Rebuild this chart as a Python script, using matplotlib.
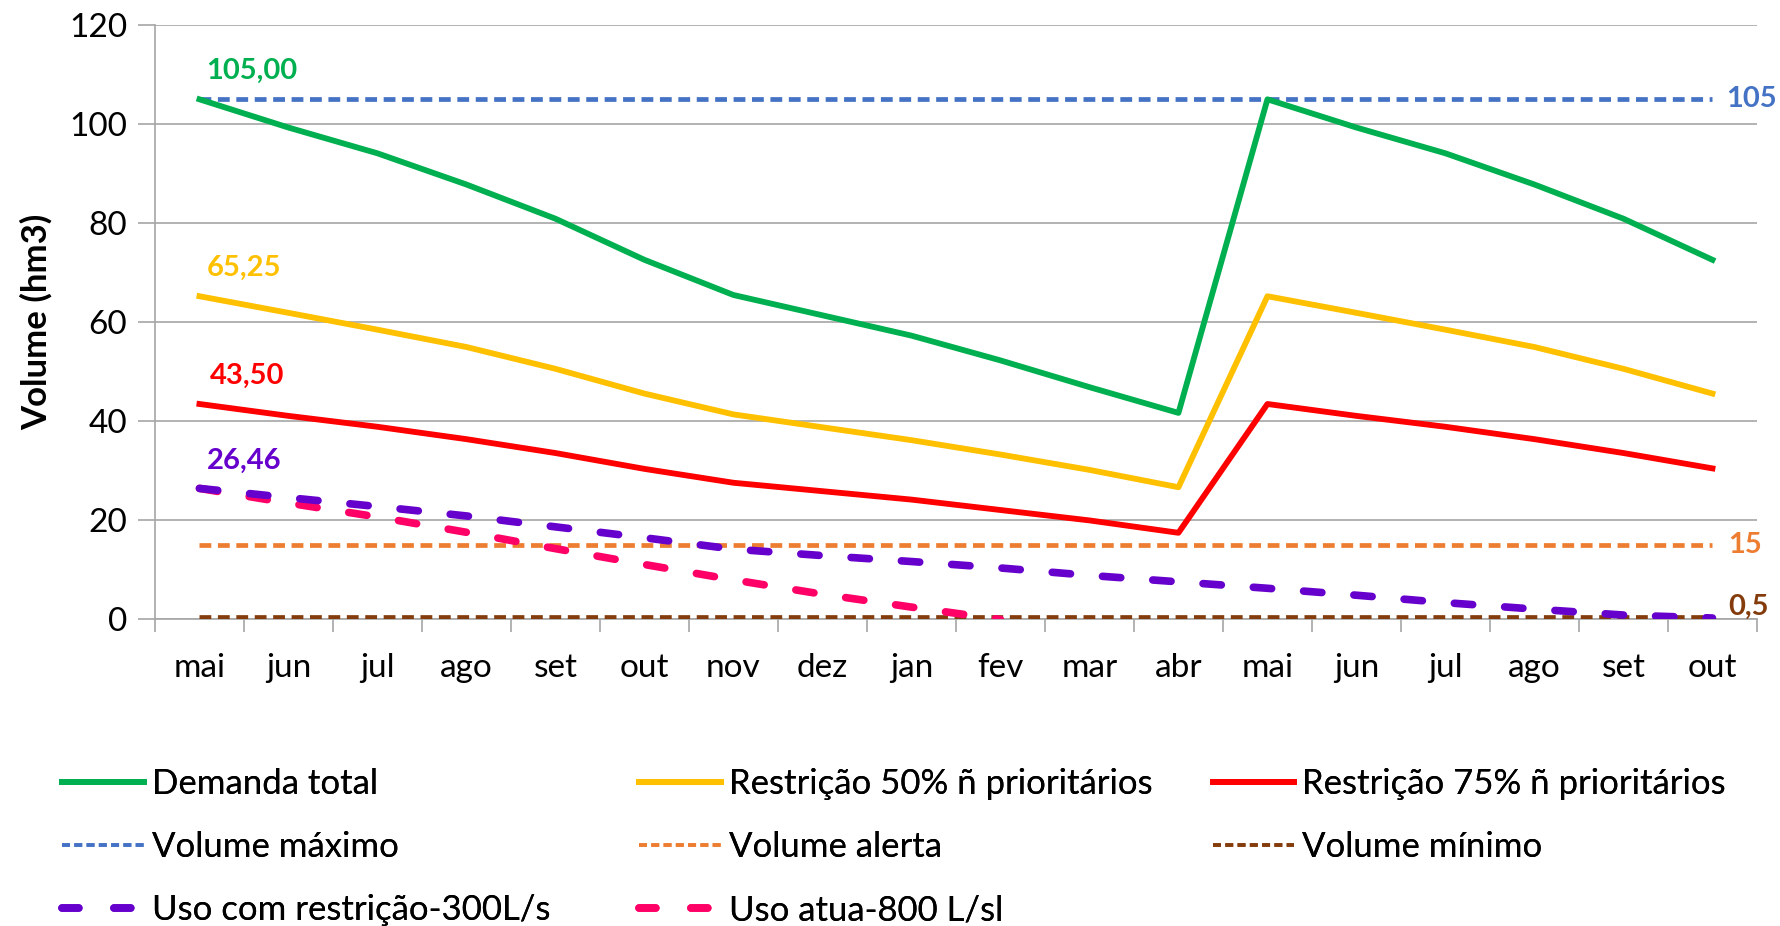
import numpy as np
import matplotlib
matplotlib.use("Agg")
import matplotlib.pyplot as plt
from matplotlib.lines import Line2D

plt.rcParams['font.family'] = ['Lato', 'DejaVu Sans']

months = ["mai", "jun", "jul", "ago", "set", "out", "nov", "dez", "jan",
          "fev", "mar", "abr", "mai", "jun", "jul", "ago", "set", "out"]

demanda_total = [105.0, 99.3, 94.1, 87.8, 80.9, 72.6, 65.5, 61.4, 57.3,
                 52.3, 46.9, 41.7, 105.0, 99.3, 94.1, 87.8, 80.9, 72.6]
restricao_50 = [65.25, 61.9, 58.5, 55.0, 50.6, 45.6, 41.4, 38.8, 36.2,
                33.3, 30.2, 26.7, 65.25, 61.9, 58.5, 55.0, 50.6, 45.6]
restricao_75 = [43.5, 41.1, 38.9, 36.4, 33.6, 30.4, 27.6, 25.9, 24.2,
                22.1, 20.0, 17.5, 43.5, 41.1, 38.9, 36.4, 33.6, 30.5]
volume_maximo = [105] * 18
volume_alerta = [15] * 18
volume_minimo = [0.5] * 18
uso_restricao = [26.46, 24.6, 22.8, 20.9, 18.7, 16.5, 14.2, 12.9, 11.7,
                 10.4, 8.9, 7.6, 6.3, 4.9, 3.4, 2.1, 0.9, 0.3]
uso_atual = [26.46, 23.5, 20.7, 17.6, 14.3, 11.1, 8.0, 5.1, 2.5, 0.0]

GREEN = "#00B050"
YELLOW = "#FFC000"
RED = "#FF0000"
BLUE = "#4472C4"
ORANGE = "#ED7D31"
BROWN = "#843C0C"
PURPLE = "#6600CC"
PINK = "#FF0066"
GRID = "#A6A6A6"

fig = plt.figure(figsize=(17.81, 9.26), dpi=100)
ax = fig.add_axes([0.087, 0.331, 0.8995, 0.642])

x = np.arange(len(months))

# reference lines
vol_style = dict(lw=3.4, linestyle=(0, (2.5, 1.4)))
ax.plot(x, volume_maximo, color=BLUE, **vol_style, zorder=3)
ax.plot(x, volume_alerta, color=ORANGE, **vol_style, zorder=3)
ax.plot(x, volume_minimo, color=BROWN, **vol_style, zorder=3)

# demand scenarios
ax.plot(x, demanda_total, color=GREEN, lw=4.2, zorder=4)
ax.plot(x, restricao_50, color=YELLOW, lw=4.2, zorder=4)
ax.plot(x, restricao_75, color=RED, lw=4.2, zorder=4)

# usage scenarios
uso_style = dict(lw=5.5, linestyle=(0, (2.4, 4.2)), dash_capstyle='round')
ax.plot(x[:len(uso_atual)], uso_atual, color=PINK, **uso_style, zorder=5)
ax.plot(x, uso_restricao, color=PURPLE, **uso_style, zorder=5)

# data labels
lbl = dict(textcoords='offset pixels', fontsize=21, fontweight='bold',
           ha='left', va='center')
ax.annotate("105,00", (x[0], demanda_total[0]), xytext=(7, 28), color=GREEN, **lbl)
ax.annotate("65,25", (x[0], restricao_50[0]), xytext=(7, 28), color=YELLOW, **lbl)
ax.annotate("43,50", (x[0], restricao_75[0]), xytext=(10, 28), color=RED, **lbl)
ax.annotate("26,46", (x[0], uso_restricao[0]), xytext=(7, 28), color=PURPLE, **lbl)
ax.annotate("105", (x[-1], volume_maximo[-1]), xytext=(14, 0), color=BLUE,
            annotation_clip=False, **lbl)
ax.annotate("15", (x[-1], volume_alerta[-1]), xytext=(16, 0), color=ORANGE,
            annotation_clip=False, **lbl)
ax.annotate("0,5", (x[-1], volume_minimo[-1]), xytext=(16, 10), color=BROWN,
            annotation_clip=False, **lbl)

# axes styling
ax.set_xlim(-0.5, len(months) - 0.5)
ax.set_ylim(0, 120)
ax.set_yticks(range(0, 121, 20))
ax.set_xticks(x)
ax.set_xticklabels(months)
ax.set_xticks(np.arange(-0.5, len(months), 1), minor=True)
ax.tick_params(axis='x', which='major', length=0, pad=24, labelsize=24)
ax.tick_params(axis='x', which='minor', length=9, color=GRID, width=1.2)
ax.tick_params(axis='y', length=12, color=GRID, width=1.2, labelsize=24, pad=8)
ax.yaxis.grid(True, color=GRID, lw=1.2)
ax.set_axisbelow(True)
for side in ("top", "right"):
    ax.spines[side].set_visible(False)
for side in ("left", "bottom"):
    ax.spines[side].set_color(GRID)
    ax.spines[side].set_linewidth(1.2)
ax.set_ylabel("Volume (hm3)", fontsize=25, fontweight='bold', labelpad=12)

# legend, three evenly spaced columns like the original
def h_solid(c):
    return Line2D([], [], color=c, lw=4.2)


def h_vol(c):
    return Line2D([], [], color=c, lw=2.6, linestyle=(0, (2.2, 1.2)))


def h_uso(c):
    return Line2D([], [], color=c, lw=5.5, linestyle=(0, (2.2, 4.6)),
                  dash_capstyle='round')


columns = [
    ([h_solid(GREEN), h_vol(BLUE), h_uso(PURPLE)],
     ["Demanda total", "Volume máximo", "Uso com restrição-300L/s"]),
    ([h_solid(YELLOW), h_vol(ORANGE), h_uso(PINK)],
     ["Restrição 50% ñ prioritários", "Volume alerta", "Uso atua-800 L/sl"]),
    ([h_solid(RED), h_vol(BROWN)],
     ["Restrição 75% ñ prioritários", "Volume mínimo"]),
]
col_x = [0.035, 0.359, 0.681]
for (handles, labels), cx in zip(columns, col_x):
    leg = fig.legend(handles, labels, loc='upper left', bbox_to_anchor=(cx, 0.171),
                     frameon=False, fontsize=25, handlelength=2.35,
                     handletextpad=0.22, labelspacing=0.9, borderaxespad=0,
                     borderpad=0)
    fig.add_artist(leg)

fig.savefig("out.png", dpi=100)
